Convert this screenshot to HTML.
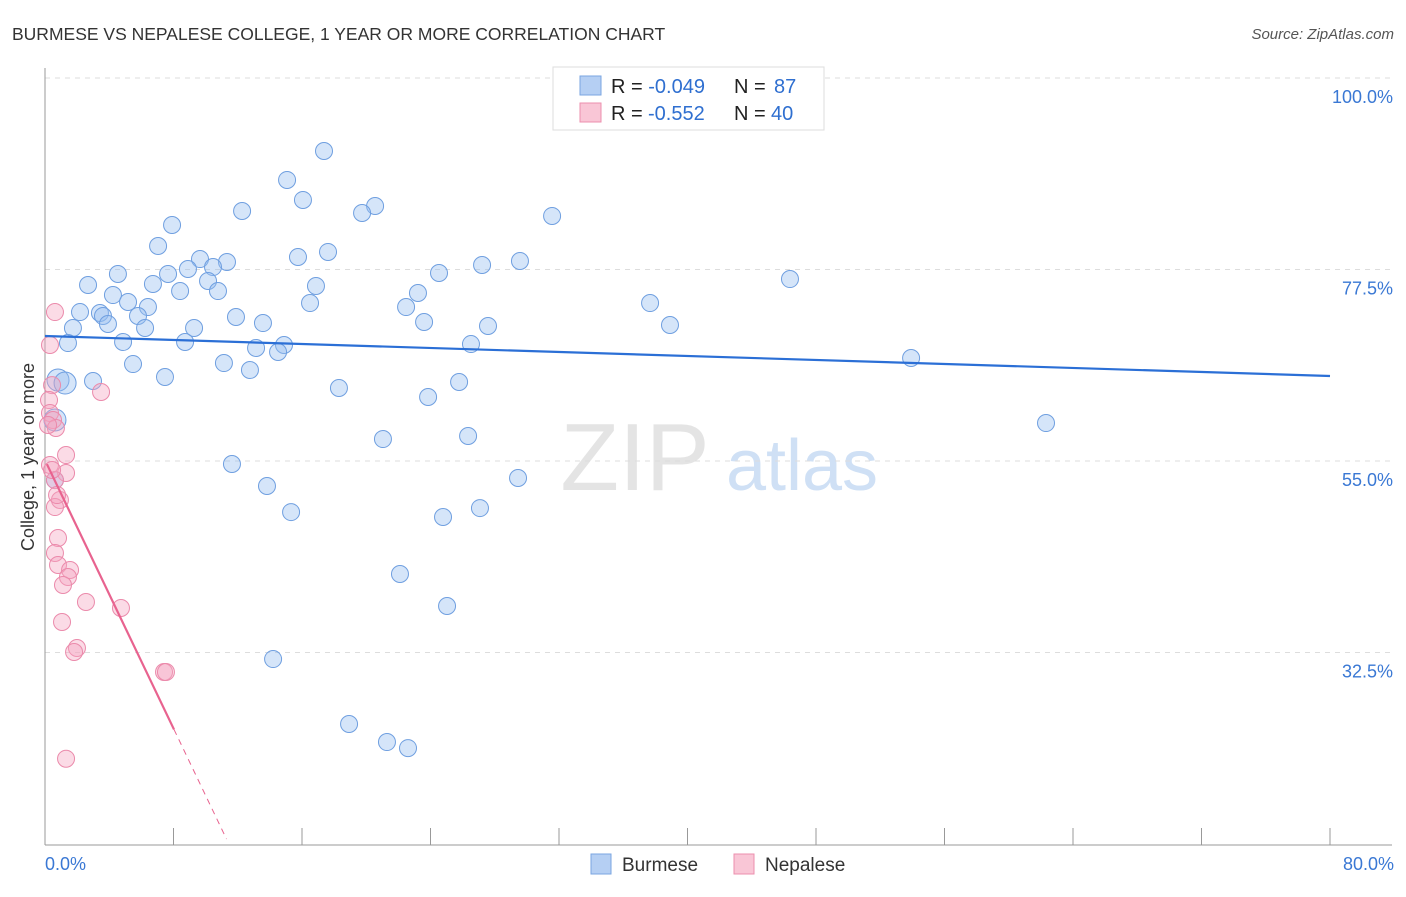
<!DOCTYPE html>
<html><head><meta charset="utf-8"><style>
body{margin:0;background:#fff;font-family:"Liberation Sans",sans-serif;}
svg text{font-family:"Liberation Sans",sans-serif;}
</style></head><body>
<svg id="chart" width="1406" height="892">
<text x="12" y="40" font-size="17.5" fill="#333">BURMESE VS NEPALESE COLLEGE, 1 YEAR OR MORE CORRELATION CHART</text>
<text x="1394" y="39" font-size="15" fill="#555" font-style="italic" text-anchor="end">Source: ZipAtlas.com</text>
<text x="635" y="490" font-size="96" fill="#e4e4e4" font-family="Liberation Serif" text-anchor="middle">ZIP</text>
<text x="802" y="490" font-size="72" fill="#cfe0f5" text-anchor="middle">atlas</text>
<text transform="translate(34,457) rotate(-90)" font-size="18" fill="#333" text-anchor="middle">College, 1 year or more</text>
<g id="grid"></g><g id="axes"></g><g id="pts"></g><g id="trend"></g>
<g>
<rect x="553" y="67" width="271" height="63" fill="#fff" stroke="#ddd"/>
<rect x="580" y="76" width="21" height="19" fill="#b5cff3" stroke="#7aa5e0"/>
<rect x="580" y="103" width="21" height="19" fill="#f9c6d6" stroke="#ec8fae"/>
<text x="611" y="93" font-size="20" fill="#222">R = <tspan fill="#2f6fd0">-0.049</tspan><tspan x="734">N = </tspan><tspan fill="#2f6fd0" x="774">87</tspan></text>
<text x="611" y="120" font-size="20" fill="#222">R = <tspan fill="#2f6fd0" x="648">-0.552</tspan><tspan x="734">N = </tspan><tspan fill="#2f6fd0" x="771">40</tspan></text>
</g>
<g>
<rect x="591" y="854" width="20" height="20" fill="#b5cff3" stroke="#7aa5e0"/>
<text x="622" y="871" font-size="19" fill="#333">Burmese</text>
<rect x="734" y="854" width="20" height="20" fill="#f9c6d6" stroke="#ec8fae"/>
<text x="765" y="871" font-size="19" fill="#333">Nepalese</text>
</g>
<text x="45" y="870" font-size="18" fill="#3a78d4">0.0%</text>
<text x="1394" y="870" font-size="18" fill="#3a78d4" text-anchor="end">80.0%</text>
</svg>
<script>
const yTicks=[100,77.5,55,32.5];
const yTickLabels=["100.0%","77.5%","55.0%","32.5%"];
const burmeseX=[17.37,15.07,16.06,12.27,20.55,19.74,31.57,7.91,7.04,17.62,15.75,9.65,11.33,10.46,27.21,29.57,24.53,4.54,7.66,8.90,2.68,6.72,10.15,16.87,46.38,8.41,10.77,23.22,4.23,5.17,6.41,16.50,22.48,2.18,3.42,3.61,5.79,11.89,23.60,1.74,3.92,6.23,9.28,13.57,27.58,37.67,38.91,1.43,4.86,8.72,13.14,14.88,26.52,14.51,53.92,5.48,11.14,12.76,7.47,0.81,1.25,2.99,25.78,18.30,23.85,0.62,62.32,21.04,26.34,11.64,13.82,29.45,15.32,24.78,27.08,22.10,25.03,14.20,18.93,21.29,22.60,32.19,40.03,0.62];
const burmeseY=[91.42,88.02,85.67,84.37,84.96,84.14,83.79,82.73,80.26,79.56,78.97,78.73,78.38,77.79,78.03,78.50,77.09,76.97,76.97,77.56,75.68,75.80,76.15,75.56,76.38,74.97,74.97,74.74,74.50,73.68,73.09,73.56,73.09,72.50,72.39,72.04,72.04,71.92,71.33,70.63,71.10,70.63,70.63,71.21,70.86,73.56,70.98,68.86,68.98,68.98,68.28,68.63,68.74,67.81,67.10,66.39,66.51,65.69,64.87,64.51,64.16,64.40,64.28,63.58,62.52,59.82,59.46,57.58,57.94,54.65,52.06,53.00,49.00,48.42,49.47,41.72,37.96,31.73,24.10,21.98,21.27,97.41,99.41,52.76];
const nepaleseX=[0.62,0.31,0.44,0.25,0.31,0.50,0.68,1.31,0.31,1.31,0.62,0.93,0.62,0.81,0.62,0.81,1.56,1.43,1.12,2.55,4.73,1.06,1.99,1.81,7.41,7.53,1.31,3.49,0.19,0.44,0.75];
const nepaleseY=[72.50,68.63,63.92,62.16,60.64,59.82,58.88,55.70,54.53,53.59,52.76,50.42,49.59,45.95,44.19,42.78,42.19,41.37,40.43,38.43,37.73,36.08,33.03,32.56,30.21,30.21,20.02,63.11,59.23,53.94,51.00];
const burmeseTrend=[69.69,64.99];
const nepaleseTrend=[55.1,-3.94];
const NS='http://www.w3.org/2000/svg';
const X=v=>45+v/80*1285, Y=v=>78+(100-v)/22.5*191.5;
function mk(t,a,p){const e=document.createElementNS(NS,t);for(const k in a)e.setAttribute(k,a[k]);p.appendChild(e);return e;}
const grid=document.getElementById('grid'),axes=document.getElementById('axes'),pts=document.getElementById('pts'),tr=document.getElementById('trend');
yTicks.forEach((v,i)=>{
 const l=mk('line',{x1:45,x2:1392,y1:Y(v),y2:Y(v),stroke:'#ddd','stroke-dasharray':'5,5'},grid);
 
 
 const t=mk('text',{x:1393,y:Y(v)+25,'font-size':18,fill:'#3a78d4','text-anchor':'end'},grid);
 t.textContent=yTickLabels[i];
 
 
});
const ya=mk('line',{x1:45,x2:45,y1:68,y2:845,stroke:'#999'},axes);


const xa=mk('line',{x1:45,x2:1392,y1:845,y2:845,stroke:'#999'},axes);


for(let i=0;i<=10;i++){const t=mk('line',{x1:X(i*8),x2:X(i*8),y1:828,y2:845,stroke:'#999'},axes);
 
 }
burmeseX.forEach((x,i)=>{const big=(x<1.3&&burmeseY[i]>59&&burmeseY[i]<65);
 const c=mk('circle',{cx:X(x),cy:Y(burmeseY[i]),r:big?11:8.5,fill:'rgba(150,190,240,0.4)',stroke:'#6f9fe0','stroke-width':1},pts);
 
 });
nepaleseX.forEach((x,i)=>{const c=mk('circle',{cx:X(x),cy:Y(nepaleseY[i]),r:8.5,fill:'rgba(245,165,192,0.4)',stroke:'#eb8aab','stroke-width':1},pts);
 
 });
const bl=mk('line',{x1:X(0),y1:Y(burmeseTrend[0]),x2:X(80),y2:Y(burmeseTrend[1]),stroke:'#2b6fd6','stroke-width':2.2},tr);


const nf=x=>nepaleseTrend[0]+nepaleseTrend[1]*x;
const nl=mk('line',{x1:X(0.12),y1:Y(nf(0.12)),x2:X(8.03),y2:Y(nf(8.03)),stroke:'#e8638f','stroke-width':2.2},tr);


const nd=mk('line',{x1:X(8.03),y1:Y(nf(8.03)),x2:X(11.3),y2:Y(nf(11.3)),stroke:'#e8638f','stroke-width':1,'stroke-dasharray':'6,5'},tr);


</script>
</body></html>
